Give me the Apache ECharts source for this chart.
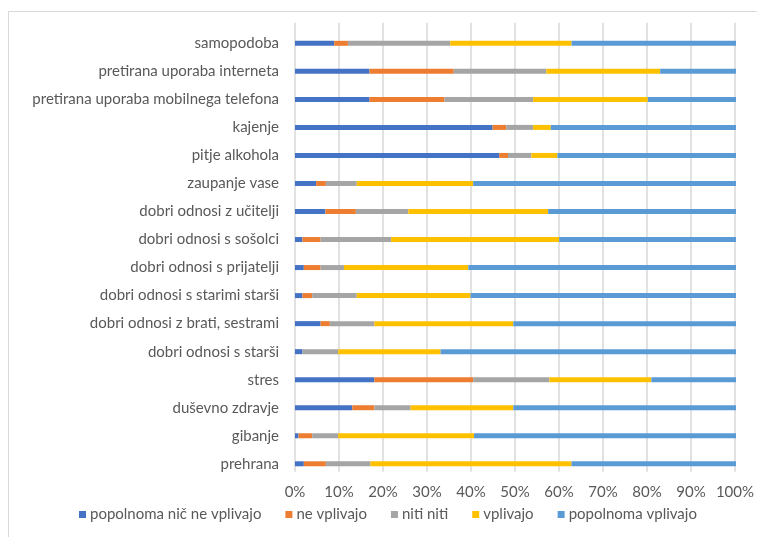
<!DOCTYPE html>
<html>
<head>
<meta charset="utf-8">
<script src="https://cdn.jsdelivr.net/npm/echarts@6/dist/echarts.min.js"></script>
<style>
  html, body { margin: 0; padding: 0; background: #fff; }
  #chart { width: 757px; height: 537px; }
</style>
</head>
<body>
<div id="chart"></div>
<script>
// categories top to bottom
const categories = [
  'samopodoba',
  'pretirana uporaba interneta',
  'pretirana uporaba mobilnega telefona',
  'kajenje',
  'pitje alkohola',
  'zaupanje vase',
  'dobri odnosi z učitelji',
  'dobri odnosi s sošolci',
  'dobri odnosi s prijatelji',
  'dobri odnosi s starimi starši',
  'dobri odnosi z brati, sestrami',
  'dobri odnosi s starši',
  'stres',
  'duševno zdravje',
  'gibanje',
  'prehrana',
];

const seriesNames = ['popolnoma nič ne vplivajo', 'ne vplivajo', 'niti niti', 'vplivajo', 'popolnoma vplivajo'];

// percentages, same order as categories
const nicNeVplivajo = [8.9, 16.9, 16.9, 44.8, 46.3, 4.8, 6.9, 1.7, 2.0, 1.7, 5.8, 1.7, 18.0, 13.0, 0.8, 2.0];
const neVplivajo = [3.1, 19.1, 17.0, 3.1, 2.0, 2.2, 6.9, 4.1, 3.8, 2.2, 2.1, 0, 22.4, 5.0, 3.1, 5.0];
const nitiNiti = [23.2, 21.0, 20.1, 6.1, 5.3, 7.0, 11.9, 16.0, 5.3, 10.1, 10.1, 8.1, 17.3, 8.2, 5.9, 10.1];
const vplivajo = [27.5, 25.8, 26.0, 4.0, 5.9, 26.4, 31.7, 38.1, 28.2, 25.8, 31.5, 23.2, 23.1, 23.3, 30.8, 45.6];
const popolnomaVplivajo = [37.3, 17.2, 20.0, 42.0, 40.5, 59.6, 42.6, 40.1, 60.7, 60.2, 50.5, 67.0, 19.2, 50.5, 59.4, 37.3];

const xTicks = [0, 10, 20, 30, 40, 50, 60, 70, 80, 90, 100];

const colors = ['#4472c4', '#ed7d31', '#a5a5a5', '#ffc000', '#5b9bd5'];
const textColor = '#595959';
const gridColor = '#d9d9d9';
const font = 'Lato';

const values = [nicNeVplivajo, neVplivajo, nitiNiti, vplivajo, popolnomaVplivajo];

const chart = echarts.init(document.getElementById('chart'), null, { renderer: 'canvas' });

chart.setOption({
  animation: false,
  textStyle: { fontFamily: font },
  graphic: [
    {
      type: 'rect',
      shape: { x: 8.5, y: 11.5, width: 800, height: 600 },
      style: { fill: 'none', stroke: gridColor, lineWidth: 1 },
      silent: true,
    },
  ],
  grid: [
    // bars
    { left: 295, right: 21, top: 29.3, height: 448.5 },
    // gridlines + percent labels
    { left: 295, right: 21, top: 22.7, height: 449 },
  ],
  legend: {
    data: seriesNames,
    bottom: 10,
    left: 74,
    itemWidth: 7,
    itemHeight: 7,
    itemGap: 24,
    icon: 'rect',
    textStyle: { color: textColor, fontSize: 15, fontFamily: font, padding: [0, 0, 0, -1] },
  },
  xAxis: [
    { gridIndex: 0, type: 'value', min: 0, max: 100, show: false },
    {
      gridIndex: 1,
      type: 'value',
      min: 0,
      max: 100,
      interval: 10,
      axisLine: { show: false },
      axisTick: { show: false },
      splitLine: { show: true, lineStyle: { color: gridColor, width: 1.5 } },
      axisLabel: {
        color: textColor,
        fontSize: 15,
        fontFamily: font,
        margin: 13,
        formatter: (v) => (xTicks.includes(v) ? v + '%' : ''),
      },
    },
  ],
  yAxis: [
    {
      gridIndex: 0,
      type: 'category',
      data: categories,
      inverse: true,
      axisLine: { show: false },
      axisTick: { show: false },
      axisLabel: { color: textColor, fontSize: 15, fontFamily: font, margin: 16 },
    },
    { gridIndex: 1, type: 'value', show: false },
  ],
  series: seriesNames.map((name, i) => ({
    name,
    type: 'bar',
    stack: 'total',
    xAxisIndex: 0,
    yAxisIndex: 0,
    barWidth: 5,
    data: values[i],
    itemStyle: { color: colors[i] },
  })),
});
</script>
</body>
</html>
